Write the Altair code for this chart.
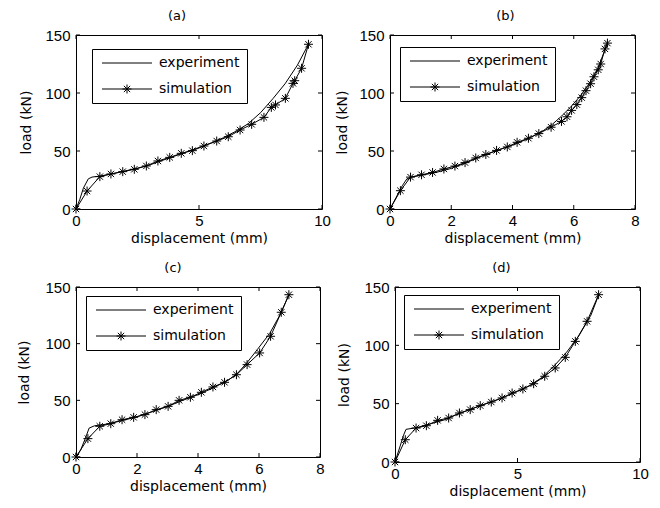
import altair as alt
import pandas as pd

# ---------------- data ----------------
a_sim_x = [0, 0.45, 0.97, 1.42, 1.90, 2.37, 2.86, 3.33, 3.81, 4.28, 4.73, 5.20, 5.72, 6.19, 6.67, 7.14, 7.64, 7.94, 8.11, 8.51, 8.82, 8.89, 9.17, 9.45]
a_sim_y = [0, 15.5, 27.9, 30.2, 32.2, 34.2, 37.1, 41.4, 44.5, 48.0, 50.3, 54.3, 58.6, 62.3, 68.1, 73.0, 79.0, 87.6, 89.7, 95.4, 108.3, 110.6, 121.3, 142.0]
a_exp_x = [0, 0.15, 0.3, 0.5, 0.65, 1.0, 1.5, 2.0, 2.5, 3.0, 3.5, 4.0, 4.5, 5.0, 5.5, 6.0, 6.5, 7.0, 7.5, 8.0, 8.5, 9.0, 9.45]
a_exp_y = [0, 8, 18, 26, 27.5, 28.5, 30.5, 32.8, 35.2, 38, 41.8, 45.5, 49.3, 53, 57, 61.5, 67, 73.5, 83, 95, 108, 124, 142]

b_sim_x = [0, 0.34, 0.67, 1.03, 1.39, 1.76, 2.12, 2.45, 2.80, 3.13, 3.48, 3.83, 4.15, 4.52, 4.86, 5.26, 5.60, 5.78, 5.93, 6.10, 6.26, 6.40, 6.55, 6.66, 6.80, 6.88, 7.02, 7.10]
b_sim_y = [0, 15.8, 27.5, 29.5, 31.5, 34.5, 37.0, 40.0, 44.0, 47.0, 50.5, 53.5, 57.5, 61.0, 65.0, 70.5, 75.5, 79.5, 85.0, 90.0, 96.0, 102.0, 108.0, 114.0, 120.0, 125.0, 138.0, 143.0]
b_exp_x = [0, 0.2, 0.4, 0.55, 0.7, 1.0, 1.5, 2.0, 2.5, 3.0, 3.5, 4.0, 4.5, 5.0, 5.3, 5.6, 5.9, 6.2, 6.5, 6.8, 7.1]
b_exp_y = [0, 10, 20, 26, 27.5, 29, 31.5, 35, 40, 45.5, 50.5, 55, 60.5, 67.5, 73, 80, 88, 97, 108, 122, 143]

c_sim_x = [0, 0.39, 0.78, 1.14, 1.51, 1.89, 2.26, 2.63, 3.02, 3.38, 3.75, 4.11, 4.49, 4.87, 5.26, 5.61, 6.02, 6.38, 6.73, 6.98]
c_sim_y = [0, 16.2, 27.1, 29.4, 32.9, 35.0, 37.4, 41.8, 44.7, 50.0, 52.7, 57.1, 61.8, 65.9, 72.6, 81.5, 91.8, 106.5, 127.7, 143.2]
c_exp_x = [0, 0.15, 0.3, 0.43, 0.6, 1.0, 1.5, 2.0, 2.5, 3.0, 3.5, 4.0, 4.5, 5.0, 5.3, 5.6, 5.95, 6.35, 6.7, 6.98]
c_exp_y = [0, 6, 16, 25.5, 27.5, 29, 32, 35.5, 40, 44.5, 50, 55, 61, 68, 74, 83, 95, 109, 126, 143]

d_sim_x = [0, 0.42, 0.86, 1.28, 1.74, 2.19, 2.63, 3.07, 3.48, 3.93, 4.37, 4.78, 5.22, 5.66, 6.11, 6.54, 6.95, 7.36, 7.84, 8.31]
d_sim_y = [0, 19.1, 29.1, 31.1, 35.7, 37.7, 42.0, 44.9, 48.3, 51.4, 54.9, 59.1, 62.6, 67.1, 73.5, 80.6, 89.7, 103.4, 120.6, 143.4]
d_exp_x = [0, 0.2, 0.35, 0.45, 0.9, 1.5, 2.0, 2.5, 3.0, 3.5, 4.0, 4.5, 5.0, 5.5, 6.0, 6.5, 7.0, 7.5, 8.0, 8.31]
d_exp_y = [0, 13, 23, 28, 29.5, 33, 36, 40.5, 44.5, 48.5, 52, 56, 60.5, 65.5, 72.5, 82.5, 94, 108, 126, 143]

series_names = ["experiment", "simulation"]
panel_titles = ["(a)", "(b)", "(c)", "(d)"]
x_ticks_10 = [0, 5, 10]
x_ticks_8 = [0, 2, 4, 6, 8]
y_ticks = [0, 50, 100, 150]
x_title = "displacement (mm)"
y_title = "load (kN)"

FONT = "DejaVu Sans"
TICK_FONT = "Liberation Sans"
ASTERISK = "M0,-1L0,1M-1,0L1,0M-0.7,-0.7L0.7,0.7M-0.7,0.7L0.7,-0.7"
LEG_EXP = "M-0.8,0L9.2,0"
LEG_SIM = ("M-0.8,0L9.2,0M4.2,-0.9L4.2,0.9M3.3,0L5.1,0"
           "M3.57,-0.63L4.83,0.63M3.57,0.63L4.83,-0.63")


def panel(title, tdx, sx, sy, ex, ey, xmax, xticks, w, h, lx, ly, ytp):
    sim = pd.DataFrame({"x": sx, "y": sy, "series": "simulation", "i": range(len(sx))})
    exp = pd.DataFrame({"x": ex, "y": ey, "series": "experiment", "i": range(len(ex))})
    xenc = alt.X("x:Q", scale=alt.Scale(domain=[0, xmax], nice=False, zero=True),
                 axis=alt.Axis(values=xticks, title=x_title, labelFlush=False))
    yenc = alt.Y("y:Q", scale=alt.Scale(domain=[0, 150], nice=False, zero=True),
                 axis=alt.Axis(values=y_ticks, title=y_title, labelFlush=False,
                               titlePadding=ytp))
    exp_line = alt.Chart(exp).mark_line(color="black", strokeWidth=1).encode(
        x=xenc, y=yenc, order="i:Q")
    sim_line = alt.Chart(sim).mark_line(color="black", strokeWidth=1).encode(
        x=xenc, y=yenc, order="i:Q")
    sim_pts = alt.Chart(sim).mark_point(shape=ASTERISK, size=81, filled=False,
                                        color="black", strokeWidth=1, opacity=1).encode(
        x=xenc, y=yenc)
    both = pd.concat([exp, sim])
    legend_layer = alt.Chart(both).mark_point(filled=False, color="black", opacity=0).encode(
        x=xenc, y=yenc,
        shape=alt.Shape("series:N",
                        scale=alt.Scale(domain=series_names, range=[LEG_EXP, LEG_SIM]),
                        legend=alt.Legend(title=None, orient="none", legendX=lx, legendY=ly,
                                          strokeColor="black", fillColor="white",
                                          padding=7, rowPadding=12, labelOffset=46,
                                          symbolSize=100, symbolStrokeWidth=1,
                                          symbolStrokeColor="black", symbolOpacity=1,
                                          symbolFillColor="transparent",
                                          labelFont=FONT, labelFontSize=14,
                                          labelColor="black", cornerRadius=0)))
    xt = pd.DataFrame({"x": xticks})
    yt = pd.DataFrame({"y": y_ticks})
    tick_b = alt.Chart(xt).mark_rule(color="black", strokeWidth=1).encode(
        x=xenc, y=alt.value(h), y2=alt.value(h - 4))
    tick_t = alt.Chart(xt).mark_rule(color="black", strokeWidth=1).encode(
        x=xenc, y=alt.value(0), y2=alt.value(4))
    tick_l = alt.Chart(yt).mark_rule(color="black", strokeWidth=1).encode(
        y=yenc, x=alt.value(0), x2=alt.value(4))
    tick_r = alt.Chart(yt).mark_rule(color="black", strokeWidth=1).encode(
        y=yenc, x=alt.value(w), x2=alt.value(w - 4))
    return alt.layer(exp_line, sim_line, sim_pts, legend_layer,
                     tick_b, tick_t, tick_l, tick_r).properties(
        width=w, height=h,
        title=alt.TitleParams(text=title, font=FONT, fontSize=13, fontWeight="normal",
                              color="black", offset=5, dx=tdx))


pa = panel(panel_titles[0], -22, a_sim_x, a_sim_y, a_exp_x, a_exp_y, 10, x_ticks_10, 246, 174, 16, 14, 11)
pb = panel(panel_titles[1], -7, b_sim_x, b_sim_y, b_exp_x, b_exp_y, 8, x_ticks_8, 245, 174, 10, 12, 9)
pc = panel(panel_titles[2], -25, c_sim_x, c_sim_y, c_exp_x, c_exp_y, 8, x_ticks_8, 244, 170, 10, 9, 13)
pd_ = panel(panel_titles[3], -16, d_sim_x, d_sim_y, d_exp_x, d_exp_y, 10, x_ticks_10, 245, 175, 9, 8, 12)

row1 = alt.hconcat(pa, pb, spacing=0).resolve_scale(
    x="independent", y="independent", shape="independent").resolve_legend(shape="independent")
row2 = alt.hconcat(pc, pd_, spacing=12).resolve_scale(
    x="independent", y="independent", shape="independent").resolve_legend(shape="independent")

chart = alt.vconcat(row1, row2, spacing=15).resolve_scale(
    x="independent", y="independent", shape="independent").resolve_legend(
    shape="independent").properties(
    padding={"left": 17, "top": 9, "right": 5, "bottom": 5},
    background="white",
).configure_view(stroke="black", strokeWidth=1).configure_axis(
    grid=False, ticks=False, domain=False,
    labelFont=TICK_FONT, labelFontSize=15, labelColor="black", labelPadding=6,
    titleFont=FONT, titleFontSize=14, titleFontWeight="normal", titleColor="black",
).configure_axisX(titlePadding=3, labelPadding=4)

chart.save("out.html", embed_options={"renderer": "svg", "actions": False})
